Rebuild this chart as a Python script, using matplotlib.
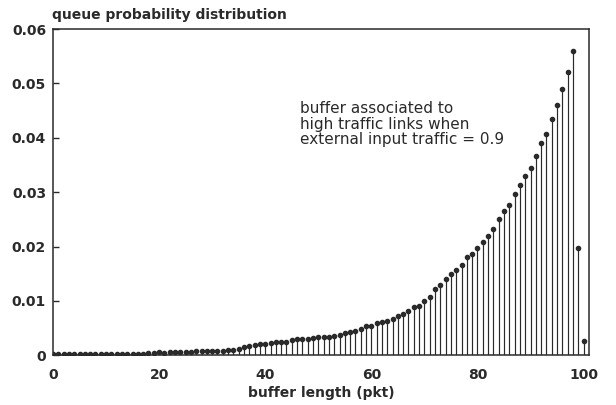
import numpy as np
import matplotlib
matplotlib.use("Agg")
import matplotlib.pyplot as plt

# buffer length (pkt) and queue probability
buffer_len = np.arange(0, 101)
prob = [
    0.0002, 0.0002, 0.0002, 0.0002, 0.0002, 0.0002, 0.0002, 0.0002, 0.0002, 0.0002,
    0.0002, 0.0002, 0.0002, 0.0002, 0.0002, 0.0003, 0.0003, 0.0003, 0.0004, 0.0004,
    0.0005, 0.0004, 0.0005, 0.0005, 0.0006, 0.0006, 0.0006, 0.0007, 0.0007, 0.0007,
    0.0008, 0.0008, 0.0008, 0.0009, 0.0010, 0.0012, 0.0015, 0.0017, 0.0019, 0.0020,
    0.0021, 0.0022, 0.0024, 0.0024, 0.0025, 0.0028, 0.0029, 0.0029, 0.0030, 0.0031,
    0.0033, 0.0034, 0.0034, 0.0035, 0.0038, 0.0040, 0.0043, 0.0045, 0.0049, 0.0053,
    0.0054, 0.0059, 0.0061, 0.0062, 0.0067, 0.0072, 0.0076, 0.0081, 0.0089, 0.0091,
    0.0099, 0.0108, 0.0121, 0.0130, 0.0140, 0.0150, 0.0157, 0.0166, 0.0180, 0.0187,
    0.0198, 0.0208, 0.0220, 0.0232, 0.0251, 0.0265, 0.0277, 0.0297, 0.0313, 0.0330,
    0.0345, 0.0366, 0.0391, 0.0407, 0.0434, 0.0460, 0.0489, 0.0521, 0.0559, 0.0197,
    0.0026,
]
yticks = [0, 0.01, 0.02, 0.03, 0.04, 0.05, 0.06]
ytick_labels = ["0", "0.01", "0.02", "0.03", "0.04", "0.05", "0.06"]
xticks = [0, 20, 40, 60, 80, 100]

ink = "#2a2a2a"
plt.rcParams["font.family"] = "DejaVu Sans"

fig = plt.figure(figsize=(6.16, 4.05), dpi=100)
ax = fig.add_axes([0.086, 0.123, 0.870, 0.805])

ax.vlines(buffer_len, 0, prob, color=ink, linewidth=0.85)
ax.plot(buffer_len, prob, "o", color=ink, markersize=3, linestyle="none")

ax.set_xlim(0, 101)
ax.set_ylim(0, 0.06)
ax.set_xticks(xticks)
ax.set_xticklabels([str(t) for t in xticks], fontsize=10, fontweight="bold", color=ink)
ax.set_yticks(yticks)
ax.set_yticklabels(ytick_labels, fontsize=10, fontweight="bold", color=ink)
ax.tick_params(axis="y", direction="in", length=4, width=1, color=ink, pad=5)
ax.tick_params(axis="x", length=0, pad=9)
for s in ax.spines.values():
    s.set_color(ink)
    s.set_linewidth(1.1)

ax.set_xlabel("buffer length (pkt)", fontsize=10, fontweight="bold", color=ink, labelpad=3)
fig.text(0.085, 0.963, "queue probability distribution", fontsize=10, fontweight="bold",
         color=ink, va="center", ha="left")

ax.text(46.5, 0.0467, "buffer associated to\nhigh traffic links when\nexternal input traffic = 0.9",
        fontsize=11, color=ink, va="top", ha="left", linespacing=1.02)

fig.savefig("out.png", dpi=100)
